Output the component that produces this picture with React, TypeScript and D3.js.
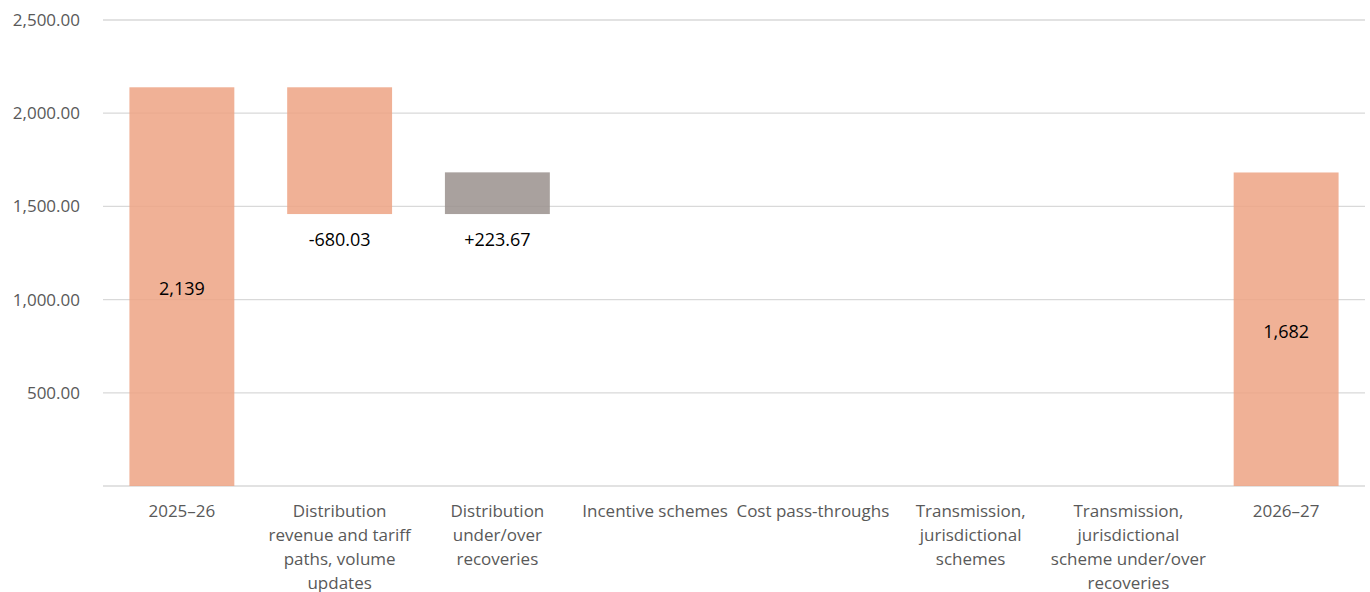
import React from "react";
import * as d3 from "d3";

const categories = [
  "2025–26",
  "Distribution\nrevenue and tariff\npaths, volume\nupdates",
  "Distribution\nunder/over\nrecoveries",
  "Incentive schemes",
  "Cost pass-throughs",
  "Transmission,\njurisdictional\nschemes",
  "Transmission,\njurisdictional\nscheme under/over\nrecoveries",
  "2026–27",
];
const startValue = 2139;
const deltas = [-680.03, 223.67, 0, 0, 0, 0];
const endValue = 1682;
const yTicks = [500, 1000, 1500, 2000, 2500];

const W = 1370;
const H = 592;
const m = { left: 103, right: 5, top: 20, bottom: 106 };

type Bar = { cat: string; y0: number; y1: number; kind: string; label: string };

export default function App() {
  const x = d3
    .scaleBand<string>()
    .domain(categories)
    .range([m.left, W - m.right])
    .paddingInner(0.335)
    .paddingOuter(0.1675);
  const y = d3.scaleLinear().domain([0, 2500]).range([H - m.bottom, m.top]);

  const bars: Bar[] = [];
  bars.push({ cat: categories[0], y0: 0, y1: startValue, kind: "total", label: d3.format(",.0f")(startValue) });
  let run = startValue;
  deltas.forEach((d, i) => {
    const next = run + d;
    if (d !== 0) {
      bars.push({
        cat: categories[i + 1],
        y0: Math.min(run, next),
        y1: Math.max(run, next),
        kind: d < 0 ? "down" : "up",
        label: ((d > 0 ? "+" : "") + d3.format(".2f")(d)).replace("−", "-"),
      });
    }
    run = next;
  });
  bars.push({ cat: categories[7], y0: 0, y1: endValue, kind: "total", label: d3.format(",.0f")(endValue) });

  const font = "'Open Sans', 'Noto Sans', sans-serif";
  const fill = (k: string) => (k === "up" ? "#9A918D" : "#EDA384");

  return (
    <svg width={W} height={H} style={{ position: "absolute", left: 0, top: 0 }} fontFamily={font}>
      <rect width={W} height={H} fill="#fff" />
      {[0, ...yTicks].map((t) => (
        <line key={t} x1={m.left} x2={W - m.right} y1={y(t)} y2={y(t)} stroke="#d9d9d9" strokeWidth={1.3} />
      ))}
      {yTicks.map((t) => (
        <text key={t} x={80} y={y(t)} dy="0.35em" textAnchor="end" fontSize={17} fill="#595959">
          {d3.format(",.2f")(t)}
        </text>
      ))}
      {bars.map((b, i) => {
        const bx = x(b.cat)!;
        const top = y(b.y1);
        const bot = y(b.y0);
        const cx = bx + x.bandwidth() / 2;
        const ly = b.kind === "total" ? (top + bot) / 2 + 2 : bot + 26;
        return (
          <g key={i}>
            <rect x={bx} y={top} width={x.bandwidth()} height={bot - top} fill={fill(b.kind)} fillOpacity={0.85} />
            <text x={cx} y={ly} dy="0.35em" textAnchor="middle" fontSize={18} fill="#000">
              {b.label}
            </text>
          </g>
        );
      })}
      {categories.map((c) => {
        const cx = x(c)! + x.bandwidth() / 2;
        return (
          <text key={c} x={cx} y={H - m.bottom + 25} dy="0.35em" textAnchor="middle" fontSize={17} fill="#595959">
            {c.split("\n").map((line, j) => (
              <tspan key={j} x={cx} dy={j === 0 ? "0.35em" : 24}>
                {line}
              </tspan>
            ))}
          </text>
        );
      })}
    </svg>
  );
}
